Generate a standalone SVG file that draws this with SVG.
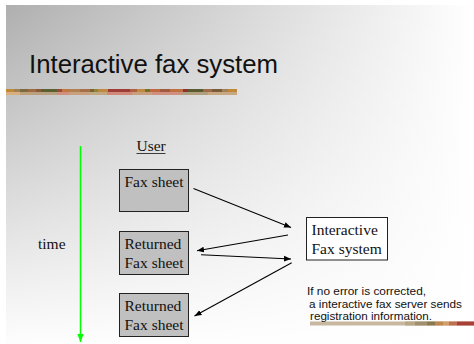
<svg xmlns="http://www.w3.org/2000/svg" width="474" height="344" viewBox="0 0 474 344">
  <defs>
    <linearGradient id="bgH" x1="6" y1="0" x2="474" y2="0" gradientUnits="userSpaceOnUse">
      <stop offset="0" stop-color="#afafaf"/>
      <stop offset="1" stop-color="#ffffff"/>
    </linearGradient>
    <linearGradient id="bgV" x1="0" y1="5" x2="0" y2="350" gradientUnits="userSpaceOnUse">
      <stop offset="0" stop-color="#ffffff" stop-opacity="0"/>
      <stop offset="1" stop-color="#ffffff" stop-opacity="1"/>
    </linearGradient>
    <marker id="head" viewBox="0 0 10 10" refX="10" refY="5" markerWidth="7" markerHeight="7" orient="auto" markerUnits="userSpaceOnUse">
      <path d="M0,1 L10,5 L0,9 Z" fill="#000"/>
    </marker>
    <marker id="greenHead" viewBox="0 0 10 10" refX="10" refY="5" markerWidth="8" markerHeight="8" orient="auto" markerUnits="userSpaceOnUse">
      <path d="M0,1 L10,5 L0,9 Z" fill="#00ff00"/>
    </marker>
  </defs>
  <style>
    .serif { font-family: "Liberation Serif", "Times New Roman", serif; font-size: 15.5px; fill: #111; }
    .sans { font-family: "Liberation Sans", Arial, sans-serif; fill: #111; }
    .box { fill: #c0c0c0; stroke: #222; stroke-width: 1; }
    .wbox { fill: #ffffff; stroke: #222; stroke-width: 1; }
    .conn { stroke: #000; stroke-width: 1.1; fill: none; marker-end: url(#head); }
  </style>

  <!-- slide background -->
  <rect x="0" y="0" width="474" height="344" fill="#ffffff"/>
  <rect x="6" y="5" width="468" height="339" fill="url(#bgH)"/>
  <rect x="6" y="5" width="468" height="339" fill="url(#bgV)"/>

  <!-- title -->
  <text class="sans" x="29" y="73" font-size="25" textLength="249" lengthAdjust="spacingAndGlyphs">Interactive fax system</text>

  <!-- title rule: two-row mottled band -->
  <g id="title-rule">
    <rect x="6" y="89" width="231" height="3" fill="#a07048"/>
    <rect x="6" y="92" width="231" height="3" fill="#c8a088"/>
    <rect x="6" y="89" width="8" height="3" fill="#c08838"/>
    <rect x="14" y="89" width="6" height="3" fill="#a08050"/>
    <rect x="20" y="89" width="8" height="3" fill="#7a6a40"/>
    <rect x="28" y="89" width="8" height="3" fill="#a06a40"/>
    <rect x="36" y="89" width="5" height="3" fill="#8a5a38"/>
    <rect x="41" y="89" width="16" height="3" fill="#5a6030"/>
    <rect x="57" y="89" width="5" height="3" fill="#a04838"/>
    <rect x="62" y="89" width="8" height="3" fill="#c07840"/>
    <rect x="70" y="89" width="10" height="3" fill="#b08050"/>
    <rect x="80" y="89" width="10" height="3" fill="#a87048"/>
    <rect x="90" y="89" width="4" height="3" fill="#806030"/>
    <rect x="94" y="89" width="4" height="3" fill="#8a8838"/>
    <rect x="98" y="89" width="10" height="3" fill="#c08840"/>
    <rect x="108" y="89" width="22" height="3" fill="#a03c38"/>
    <rect x="130" y="89" width="7" height="3" fill="#b06040"/>
    <rect x="137" y="89" width="8" height="3" fill="#c08a40"/>
    <rect x="145" y="89" width="5" height="3" fill="#707030"/>
    <rect x="150" y="89" width="10" height="3" fill="#c06840"/>
    <rect x="160" y="89" width="10" height="3" fill="#a05a40"/>
    <rect x="170" y="89" width="13" height="3" fill="#c07040"/>
    <rect x="183" y="89" width="5" height="3" fill="#903030"/>
    <rect x="188" y="89" width="15" height="3" fill="#5a5a30"/>
    <rect x="203" y="89" width="9" height="3" fill="#a06a48"/>
    <rect x="212" y="89" width="10" height="3" fill="#7a5a38"/>
    <rect x="222" y="89" width="6" height="3" fill="#a08058"/>
    <rect x="228" y="89" width="9" height="3" fill="#c08838"/>
    <rect x="6" y="92" width="14" height="3" fill="#d8b080"/>
    <rect x="20" y="92" width="12" height="3" fill="#c0a078"/>
    <rect x="32" y="92" width="25" height="3" fill="#b8a080"/>
    <rect x="57" y="92" width="12" height="3" fill="#d09080"/>
    <rect x="69" y="92" width="20" height="3" fill="#c8a080"/>
    <rect x="89" y="92" width="18" height="3" fill="#c0a880"/>
    <rect x="107" y="92" width="25" height="3" fill="#d08878"/>
    <rect x="132" y="92" width="20" height="3" fill="#c8a080"/>
    <rect x="152" y="92" width="30" height="3" fill="#d09080"/>
    <rect x="182" y="92" width="26" height="3" fill="#b0a080"/>
    <rect x="208" y="92" width="29" height="3" fill="#c8a880"/>
  </g>

  <!-- time axis -->
  <g id="time-axis">
    <line x1="80.5" y1="146" x2="80.5" y2="342" stroke="#00ff00" stroke-width="1.5" marker-end="url(#greenHead)"/>
    <text class="serif" x="38" y="249">time</text>
  </g>

  <!-- column heading -->
  <g id="user-heading">
    <text class="serif" x="136.5" y="151">User</text>
    <line x1="136.5" y1="153.5" x2="165.5" y2="153.5" stroke="#111" stroke-width="0.8"/>
  </g>

  <!-- user side sheets -->
  <g id="fax-sheet">
    <rect class="box" x="119.5" y="169.5" width="69" height="42"/>
    <text class="serif" x="124.5" y="186.5">Fax sheet</text>
  </g>
  <g id="returned-sheet-1">
    <rect class="box" x="119.5" y="231.5" width="69" height="43"/>
    <text class="serif" x="124.5" y="249">Returned</text>
    <text class="serif" x="124.5" y="267.5">Fax sheet</text>
  </g>
  <g id="returned-sheet-2">
    <rect class="box" x="119.5" y="293.5" width="69" height="43"/>
    <text class="serif" x="124.5" y="311">Returned</text>
    <text class="serif" x="124.5" y="329.5">Fax sheet</text>
  </g>

  <!-- server -->
  <g id="fax-system">
    <rect class="wbox" x="306.5" y="217.5" width="81" height="42.5"/>
    <text class="serif" x="311.5" y="235">Interactive</text>
    <text class="serif" x="311.5" y="253.5">Fax system</text>
  </g>

  <!-- message flow -->
  <g id="connectors">
    <line class="conn" x1="193.5" y1="188.5" x2="291" y2="227.5"/>
    <line class="conn" x1="288" y1="235" x2="197" y2="250.7"/>
    <line class="conn" x1="201" y1="254.7" x2="291" y2="259"/>
    <line class="conn" x1="291.7" y1="262.7" x2="194.5" y2="316"/>
  </g>

  <!-- note -->
  <g id="note">
    <rect x="310" y="321.5" width="164" height="4" fill="#c8b8a0"/>
    <rect x="405" y="321.5" width="10" height="4" fill="#b8a888"/>
    <rect x="415" y="321.5" width="12" height="4" fill="#a09070"/>
    <rect x="427" y="321.5" width="8" height="4" fill="#8a7a50"/>
    <rect x="435" y="321.5" width="8" height="4" fill="#c08850"/>
    <rect x="443" y="321.5" width="6" height="4" fill="#d0a068"/>
    <rect x="449" y="321.5" width="8" height="4" fill="#c07050"/>
    <rect x="457" y="321.5" width="17" height="4" fill="#a84038"/>
    <text class="sans" font-size="11.6" x="307" y="294.5" textLength="119" lengthAdjust="spacingAndGlyphs">If no error is corrected,</text>
    <text class="sans" font-size="11.6" x="309" y="308" textLength="153" lengthAdjust="spacingAndGlyphs">a interactive fax server sends</text>
    <text class="sans" font-size="11.6" x="310" y="319.5" textLength="122" lengthAdjust="spacingAndGlyphs">registration information.</text>
  </g>
</svg>
